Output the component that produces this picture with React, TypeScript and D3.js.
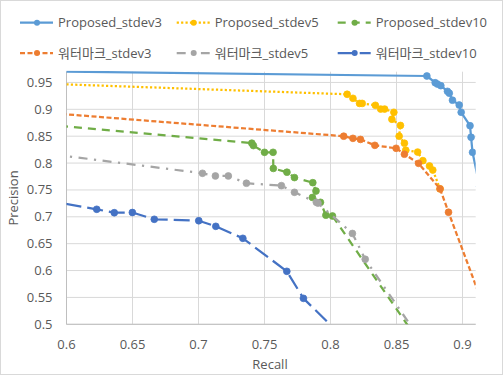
import React from "react";
import * as d3 from "d3";

const seriesNames = ["Proposed_stdev3", "Proposed_stdev5", "Proposed_stdev10", "워터마크_stdev3", "워터마크_stdev5", "워터마크_stdev10"];

const recallP3 = [0.5, 0.873, 0.8793, 0.881, 0.8836, 0.8886, 0.89, 0.8924, 0.8975, 0.899, 0.9057, 0.9065, 0.9076, 0.913];
const precisionP3 = [0.973, 0.962, 0.9495, 0.947, 0.944, 0.9335, 0.93, 0.917, 0.908, 0.8945, 0.8695, 0.848, 0.82, 0.756];

const recallP5 = [0.5, 0.8126, 0.817, 0.822, 0.824, 0.834, 0.838, 0.841, 0.848, 0.8465, 0.853, 0.852, 0.856, 0.857, 0.866, 0.87, 0.875, 0.8775, 0.883];
const precisionP5 = [0.955, 0.928, 0.9205, 0.911, 0.911, 0.9075, 0.9005, 0.9005, 0.8945, 0.8815, 0.87, 0.85, 0.837, 0.824, 0.8205, 0.8045, 0.7945, 0.787, 0.752];

const recallP10 = [0.5, 0.7404, 0.7416, 0.75, 0.7565, 0.7567, 0.767, 0.7727, 0.7866, 0.789, 0.7863, 0.7924, 0.7965, 0.8015, 0.87];
const precisionP10 = [0.89, 0.837, 0.8325, 0.82, 0.82, 0.79, 0.783, 0.773, 0.7635, 0.748, 0.736, 0.727, 0.703, 0.7015, 0.457];

const recallW3 = [0.5, 0.81, 0.817, 0.8227, 0.8336, 0.8497, 0.856, 0.8667, 0.883, 0.8894, 0.915];
const precisionW3 = [0.91, 0.85, 0.846, 0.844, 0.833, 0.8275, 0.8165, 0.7995, 0.752, 0.7085, 0.54];

const recallW5 = [0.5, 0.703, 0.7128, 0.7226, 0.7363, 0.7628, 0.7727, 0.7893, 0.7905, 0.8166, 0.8263, 0.87];
const precisionW5 = [0.844, 0.781, 0.776, 0.776, 0.7625, 0.758, 0.7456, 0.727, 0.7255, 0.669, 0.621, 0.4645];

const recallW10 = [0.55, 0.6229, 0.6362, 0.6499, 0.6665, 0.7002, 0.7131, 0.7336, 0.7669, 0.7795, 0.81];
const precisionW10 = [0.745, 0.714, 0.7076, 0.708, 0.6954, 0.6927, 0.6823, 0.66, 0.5986, 0.5483, 0.4747];

const xTicks = [0.6, 0.65, 0.7, 0.75, 0.8, 0.85, 0.9];
const xTickLabels = ["0.6", "0.65", "0.7", "0.75", "0.8", "0.85", "0.9"];
const yTicks = [0.5, 0.55, 0.6, 0.65, 0.7, 0.75, 0.8, 0.85, 0.9, 0.95];
const yTickLabels = ["0.5", "0.55", "0.6", "0.65", "0.7", "0.75", "0.8", "0.85", "0.9", "0.95"];

const recalls = [recallP3, recallP5, recallP10, recallW3, recallW5, recallW10];
const precisions = [precisionP3, precisionP5, precisionP10, precisionW3, precisionW5, precisionW10];

const colors = ["#5B9BD5", "#FFC000", "#70AD47", "#ED7D31", "#A5A5A5", "#4472C4"];
const dashes = ["none", "2.2,2.2", "8,6", "5,2.5", "9,6.5,2.2,6.5", "16,6"];

const W = 503;
const H = 375;
const left = 66.5;
const right = 475.7;
const top = 71.7;
const bottom = 324.3;
const FONT = "'Open Sans', 'Noto Sans CJK KR', sans-serif";
const TXT = "#595959";

export default function App() {
  const x = d3.scaleLinear().domain([0.6, 0.91]).range([left, right]);
  const y = d3.scaleLinear().domain([0.5, 0.97]).range([bottom, top]);
  const line = d3
    .line<[number, number]>()
    .x((d) => x(d[0]))
    .y((d) => y(d[1]));

  const legendX = [20, 176.7, 337.7];
  const legendY = [22.7, 53];

  return (
    <svg
      width={W}
      height={H}
      style={{ position: "absolute", left: 0, top: 0, background: "#fff" }}
      fontFamily={FONT}
    >
      <defs>
        <clipPath id="plotClip">
          <rect x={left} y={top - 1} width={right - left} height={bottom - top + 1} />
        </clipPath>
      </defs>
      <rect x={0.5} y={0.5} width={W - 1} height={H - 1} fill="#fff" stroke="#D9D9D9" />

      {/* gridlines */}
      {yTicks.map((t) => (
        <line key={"gy" + t} x1={left} x2={right} y1={y(t)} y2={y(t)} stroke="#D9D9D9" strokeWidth={1} />
      ))}
      {xTicks.map((t) => (
        <line key={"gx" + t} x1={x(t)} x2={x(t)} y1={top} y2={bottom} stroke="#D9D9D9" strokeWidth={1} />
      ))}
      <line x1={left} x2={left} y1={top} y2={bottom} stroke="#BFBFBF" strokeWidth={1} />
      <line x1={left} x2={right} y1={bottom} y2={bottom} stroke="#BFBFBF" strokeWidth={1} />

      {/* tick labels */}
      {yTicks.map((t, i) => (
        <text key={"ty" + t} x={52.5} y={y(t)} dy="0.35em" textAnchor="end" fontSize={13} fill={TXT}>
          {yTickLabels[i]}
        </text>
      ))}
      {xTicks.map((t, i) => (
        <text key={"tx" + t} x={x(t)} y={344} dy="0.35em" textAnchor="middle" fontSize={13} fill={TXT}>
          {xTickLabels[i]}
        </text>
      ))}
      <text x={270} y={364} dy="0.35em" textAnchor="middle" fontSize={13} fill={TXT}>
        Recall
      </text>
      <text
        transform={`translate(13,198) rotate(-90)`}
        dy="0.35em"
        textAnchor="middle"
        fontSize={13}
        fill={TXT}
      >
        Precision
      </text>

      {/* series */}
      <g clipPath="url(#plotClip)">
        {recalls.map((rs, si) => {
          const pts: [number, number][] = rs.map((r, i) => [r, precisions[si][i]]);
          return (
            <g key={"s" + si}>
              <path
                d={line(pts) || ""}
                fill="none"
                stroke={colors[si]}
                strokeWidth={2.25}
                strokeDasharray={dashes[si]}
                strokeLinejoin="round"
              />
              {pts.map((p, i) => (
                <circle key={i} cx={x(p[0])} cy={y(p[1])} r={3.4} fill={colors[si]} stroke={colors[si]} strokeWidth={0.75} />
              ))}
            </g>
          );
        })}
      </g>

      {/* legend */}
      {seriesNames.map((name, i) => {
        const lx = legendX[i % 3];
        const ly = legendY[Math.floor(i / 3)];
        return (
          <g key={"lg" + i}>
            <line x1={lx} x2={lx + 33} y1={ly} y2={ly} stroke={colors[i]} strokeWidth={2.25} strokeDasharray={dashes[i]} />
            <circle cx={lx + 17} cy={ly} r={3} fill={colors[i]} />
            <text x={lx + 38} y={ly} dy="0.35em" fontSize={13} fill={TXT}>
              {name}
            </text>
          </g>
        );
      })}
    </svg>
  );
}
